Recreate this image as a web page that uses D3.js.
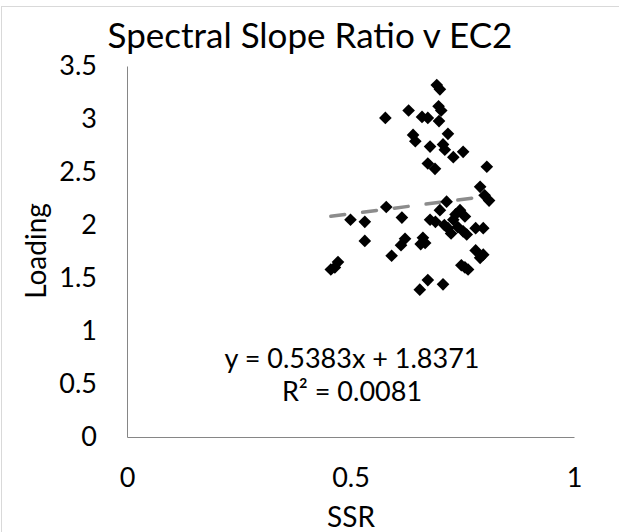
<!DOCTYPE html>
<html>
<head>
<meta charset="utf-8">
<script src="https://cdn.jsdelivr.net/npm/d3@7"></script>
<style>
  html, body { margin: 0; padding: 0; background: #fff; }
  svg { display: block; font-family: Lato, "Open Sans", sans-serif; }
  .axis path.domain { stroke: #868686; }
  .axis text { fill: #000; font-size: 27px; font-family: Lato, sans-serif; }
</style>
</head>
<body>
<div id="chart"></div>
<script>
// SSR vs EC2 loading.
const ssr = [
  0.578, 0.630, 0.640, 0.645, 0.693, 0.700, 0.697, 0.703, 0.660, 0.673,
  0.698, 0.718, 0.678, 0.707, 0.711, 0.730, 0.752, 0.673, 0.689, 0.805,
  0.790, 0.800, 0.810,
  0.500, 0.532, 0.580, 0.615, 0.715, 0.700, 0.745, 0.678, 0.690, 0.756,
  0.730, 0.740, 0.718, 0.780, 0.797, 0.725, 0.752, 0.662, 0.710, 0.735, 0.760,
  0.532, 0.622, 0.613, 0.592, 0.472, 0.456, 0.465, 0.667, 0.657, 0.780,
  0.797, 0.790, 0.748, 0.763, 0.756, 0.673, 0.707, 0.655
];
const loading = [
  3.01, 3.08, 2.85, 2.79, 3.32, 3.28, 3.12, 3.08, 3.02, 3.01,
  2.98, 2.86, 2.74, 2.76, 2.71, 2.64, 2.69, 2.58, 2.53, 2.55,
  2.36, 2.28, 2.23,
  2.05, 2.03, 2.17, 2.07, 2.22, 2.14, 2.14, 2.05, 2.03, 2.08,
  2.05, 1.98, 1.97, 1.97, 1.97, 1.92, 1.94, 1.88, 2.00, 2.10, 1.91,
  1.85, 1.87, 1.81, 1.71, 1.65, 1.58, 1.60, 1.83, 1.82, 1.76,
  1.72, 1.69, 1.62, 1.58, 1.60, 1.48, 1.44, 1.39
];
const xTicks = [0, 0.5, 1];
const yTicks = [0, 0.5, 1, 1.5, 2, 2.5, 3, 3.5];
const slope = 0.5383, intercept = 1.8371, r2 = "0.0081";

const W = 619, H = 532;
const m = { top: 66, left: 127, right: 45, bottom: 95 };
const iw = W - m.left - m.right, ih = H - m.top - m.bottom;

const svg = d3.select("#chart").append("svg").attr("width", W).attr("height", H);
// chart-area border (right/bottom edges fall outside the crop)
svg.append("rect").attr("x", 1.5).attr("y", 6.5).attr("width", 700).attr("height", 700)
  .attr("fill", "none").attr("stroke", "#d9d9d9");

const x = d3.scaleLinear([0, 1], [0, iw]);
const y = d3.scaleLinear([0, 3.5], [ih, 0]);
const g = svg.append("g").attr("transform", `translate(${m.left},${m.top})`);

g.append("g").attr("class", "axis").attr("transform", `translate(0,${ih})`)
  .call(d3.axisBottom(x).tickValues(xTicks).tickFormat(d3.format("")).tickSize(0).tickPadding(31))
  .call((a) => a.selectAll(".tick line").remove());
g.append("g").attr("class", "axis")
  .call(d3.axisLeft(y).tickValues(yTicks).tickFormat(d3.format("")).tickSize(0).tickPadding(30))
  .call((a) => a.selectAll(".tick line").remove());

// linear trendline over the data's x range
const xr = d3.extent(ssr);
g.append("line")
  .attr("x1", x(xr[0])).attr("y1", y(slope * xr[0] + intercept))
  .attr("x2", x(xr[1])).attr("y2", y(slope * xr[1] + intercept))
  .attr("stroke", "#8c8c8c").attr("stroke-width", 3.5)
  .attr("stroke-linecap", "round").attr("stroke-dasharray", "14 18");

const diamond = d3.symbol().type(d3.symbolSquare).size(80);
g.append("g").selectAll("path").data(ssr).join("path")
  .attr("d", diamond)
  .attr("transform", (d, i) => `translate(${x(d)},${y(loading[i])}) rotate(45)`)
  .attr("fill", "#000");

svg.append("text").attr("x", 310).attr("y", 48).attr("text-anchor", "middle")
  .attr("font-size", 35).text("Spectral Slope Ratio v EC2");
svg.append("text").attr("x", 351).attr("y", 527).attr("text-anchor", "middle")
  .attr("font-size", 28).text("SSR");
svg.append("text").attr("transform", "translate(46,251) rotate(-90)").attr("text-anchor", "middle")
  .attr("font-size", 28).text("Loading");

const eq = svg.append("text").attr("text-anchor", "middle").attr("font-size", 27);
eq.append("tspan").attr("x", 352).attr("y", 368).text(`y = ${slope}x + ${intercept}`);
eq.append("tspan").attr("x", 352).attr("y", 401).text(`R² = ${r2}`);
</script>
</body>
</html>
